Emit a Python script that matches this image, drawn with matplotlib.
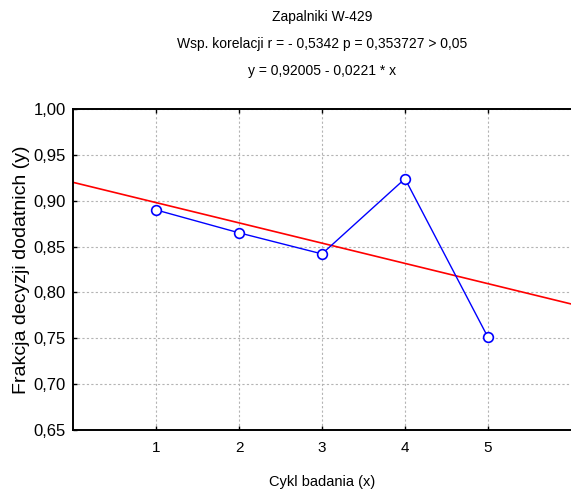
import matplotlib
matplotlib.use("Agg")
import matplotlib.pyplot as plt
import numpy as np

# data
cycles = [1, 2, 3, 4, 5]
fractions = [0.890, 0.865, 0.842, 0.924, 0.751]
intercept = 0.92005
slope = -0.0221
fit_x = [0, 6]

title_lines = ["Zapalniki W-429",
               "Wsp. korelacji r = - 0,5342 p = 0,353727 > 0,05",
               "y = 0,92005 - 0,0221 * x"]
y_ticks = [0.65, 0.70, 0.75, 0.80, 0.85, 0.90, 0.95, 1.00]

plt.rcParams["font.family"] = ["Liberation Sans", "DejaVu Sans"]

fig = plt.figure(figsize=(5.71, 4.90), dpi=100)
ax = fig.add_axes([73 / 571, 60 / 490, 498 / 571, 321 / 490])

fit_y = [intercept + slope * x for x in fit_x]
ax.plot(fit_x, fit_y, color="red", lw=1.2, zorder=2)
ax.plot(cycles, fractions, color="blue", lw=1.0, marker="o", ms=7,
        mfc="white", mec="blue", mew=1.2, zorder=3)

ax.set_xlim(0, 6)
ax.set_ylim(0.65, 1.00)
ax.set_xticks(cycles)
ax.set_yticks(y_ticks)
ax.set_yticklabels([f"{v:.2f}".replace(".", ",") for v in y_ticks])
ax.tick_params(direction="in", length=3, width=1, labelsize=12, top=True,
               pad=5)
ax.tick_params(axis="x", labelsize=11, pad=8)
ax.grid(True, color="#b4b4b4", ls=(0, (2, 2)), lw=0.8)
ax.set_axisbelow(True)

ax.spines["right"].set_visible(False)
for s in ["left", "bottom", "top"]:
    ax.spines[s].set_linewidth(1.4)

ax.set_ylabel("Frakcja decyzji dodatnich (y)", fontsize=14, labelpad=3)
ax.set_xlabel("Cykl badania (x)", fontsize=10.5, labelpad=14)

for i, line in enumerate(title_lines):
    fig.text(322 / 571, 1 - (17 + 27 * i) / 490, line, ha="center",
             va="center", fontsize=10)

fig.savefig("out.png", dpi=100)
